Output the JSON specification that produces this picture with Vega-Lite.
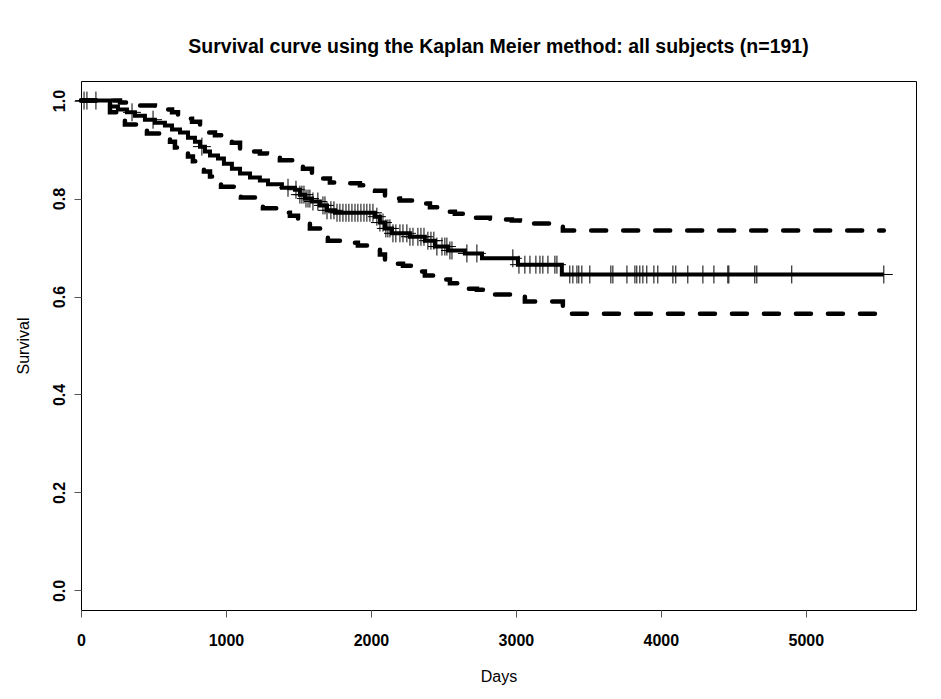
{
  "$schema": "https://vega.github.io/schema/vega-lite/v6.json",
  "width": 835,
  "height": 529,
  "autosize": {"type": "none"},
  "padding": {"left": 81, "top": 81, "right": 25, "bottom": 89},
  "background": "white",
  "config": {
    "view": {"stroke": "black", "strokeWidth": 1},
    "font": "Liberation Sans",
    "axis": {"grid": false, "domain": false, "tickColor": "#555", "tickSize": 7, "labelColor": "black", "titleColor": "black", "labelFont": "Liberation Sans", "titleFont": "Liberation Sans", "labelFontWeight": "bold", "labelFontSize": 16, "titleFontWeight": "normal", "titleFontSize": 16}
  },
  "title": {"text": "Survival curve using the Kaplan Meier method: all subjects (n=191)", "fontSize": 19.5, "fontWeight": "bold", "font": "Liberation Sans", "color": "black", "anchor": "middle", "offset": 24},
  "datasets": {
    "curves": [
      {"series": "km", "day": 0, "s": 1.0},
      {"series": "km", "day": 200, "s": 0.988},
      {"series": "km", "day": 255, "s": 0.982},
      {"series": "km", "day": 317, "s": 0.976},
      {"series": "km", "day": 372, "s": 0.969},
      {"series": "km", "day": 441, "s": 0.961},
      {"series": "km", "day": 510, "s": 0.955},
      {"series": "km", "day": 579, "s": 0.949},
      {"series": "km", "day": 628, "s": 0.941},
      {"series": "km", "day": 683, "s": 0.935},
      {"series": "km", "day": 738, "s": 0.924},
      {"series": "km", "day": 786, "s": 0.916},
      {"series": "km", "day": 821, "s": 0.906},
      {"series": "km", "day": 855, "s": 0.896},
      {"series": "km", "day": 890, "s": 0.888},
      {"series": "km", "day": 945, "s": 0.882},
      {"series": "km", "day": 986, "s": 0.871},
      {"series": "km", "day": 1041, "s": 0.861},
      {"series": "km", "day": 1097, "s": 0.851},
      {"series": "km", "day": 1166, "s": 0.843},
      {"series": "km", "day": 1234, "s": 0.837},
      {"series": "km", "day": 1290, "s": 0.829},
      {"series": "km", "day": 1386, "s": 0.822},
      {"series": "km", "day": 1476, "s": 0.818},
      {"series": "km", "day": 1510, "s": 0.808},
      {"series": "km", "day": 1545, "s": 0.8},
      {"series": "km", "day": 1593, "s": 0.794},
      {"series": "km", "day": 1648, "s": 0.786},
      {"series": "km", "day": 1697, "s": 0.776},
      {"series": "km", "day": 1752, "s": 0.771},
      {"series": "km", "day": 2028, "s": 0.763},
      {"series": "km", "day": 2062, "s": 0.751},
      {"series": "km", "day": 2097, "s": 0.739},
      {"series": "km", "day": 2145, "s": 0.729},
      {"series": "km", "day": 2269, "s": 0.722},
      {"series": "km", "day": 2372, "s": 0.714},
      {"series": "km", "day": 2441, "s": 0.702},
      {"series": "km", "day": 2531, "s": 0.694},
      {"series": "km", "day": 2648, "s": 0.688},
      {"series": "km", "day": 2766, "s": 0.678},
      {"series": "km", "day": 3014, "s": 0.665},
      {"series": "km", "day": 3317, "s": 0.645},
      {"series": "km", "day": 5538, "s": 0.645},
      {"series": "upper", "day": 0, "s": 1.0},
      {"series": "upper", "day": 269, "s": 0.996},
      {"series": "upper", "day": 338, "s": 0.994},
      {"series": "upper", "day": 407, "s": 0.99},
      {"series": "upper", "day": 510, "s": 0.986},
      {"series": "upper", "day": 579, "s": 0.982},
      {"series": "upper", "day": 628, "s": 0.976},
      {"series": "upper", "day": 669, "s": 0.967},
      {"series": "upper", "day": 717, "s": 0.963},
      {"series": "upper", "day": 766, "s": 0.957},
      {"series": "upper", "day": 821, "s": 0.949},
      {"series": "upper", "day": 869, "s": 0.935},
      {"series": "upper", "day": 924, "s": 0.929},
      {"series": "upper", "day": 993, "s": 0.927},
      {"series": "upper", "day": 1041, "s": 0.914},
      {"series": "upper", "day": 1097, "s": 0.902},
      {"series": "upper", "day": 1166, "s": 0.896},
      {"series": "upper", "day": 1234, "s": 0.892},
      {"series": "upper", "day": 1283, "s": 0.884},
      {"series": "upper", "day": 1372, "s": 0.878},
      {"series": "upper", "day": 1476, "s": 0.873},
      {"series": "upper", "day": 1531, "s": 0.861},
      {"series": "upper", "day": 1593, "s": 0.851},
      {"series": "upper", "day": 1662, "s": 0.841},
      {"series": "upper", "day": 1717, "s": 0.833},
      {"series": "upper", "day": 1821, "s": 0.831},
      {"series": "upper", "day": 1924, "s": 0.827},
      {"series": "upper", "day": 2028, "s": 0.816},
      {"series": "upper", "day": 2097, "s": 0.8},
      {"series": "upper", "day": 2200, "s": 0.796},
      {"series": "upper", "day": 2338, "s": 0.79},
      {"series": "upper", "day": 2407, "s": 0.782},
      {"series": "upper", "day": 2490, "s": 0.773},
      {"series": "upper", "day": 2579, "s": 0.769},
      {"series": "upper", "day": 2717, "s": 0.761},
      {"series": "upper", "day": 2821, "s": 0.757},
      {"series": "upper", "day": 2972, "s": 0.755},
      {"series": "upper", "day": 3028, "s": 0.749},
      {"series": "upper", "day": 3324, "s": 0.735},
      {"series": "upper", "day": 5538, "s": 0.735},
      {"series": "lower", "day": 0, "s": 1.0},
      {"series": "lower", "day": 200, "s": 0.976},
      {"series": "lower", "day": 255, "s": 0.963},
      {"series": "lower", "day": 303, "s": 0.951},
      {"series": "lower", "day": 407, "s": 0.945},
      {"series": "lower", "day": 455, "s": 0.933},
      {"series": "lower", "day": 545, "s": 0.924},
      {"series": "lower", "day": 614, "s": 0.916},
      {"series": "lower", "day": 648, "s": 0.904},
      {"series": "lower", "day": 697, "s": 0.896},
      {"series": "lower", "day": 738, "s": 0.886},
      {"series": "lower", "day": 772, "s": 0.876},
      {"series": "lower", "day": 807, "s": 0.869},
      {"series": "lower", "day": 848, "s": 0.855},
      {"series": "lower", "day": 890, "s": 0.845},
      {"series": "lower", "day": 924, "s": 0.839},
      {"series": "lower", "day": 966, "s": 0.824},
      {"series": "lower", "day": 1055, "s": 0.818},
      {"series": "lower", "day": 1103, "s": 0.802},
      {"series": "lower", "day": 1221, "s": 0.796},
      {"series": "lower", "day": 1255, "s": 0.78},
      {"series": "lower", "day": 1359, "s": 0.771},
      {"series": "lower", "day": 1441, "s": 0.765},
      {"series": "lower", "day": 1497, "s": 0.757},
      {"series": "lower", "day": 1545, "s": 0.749},
      {"series": "lower", "day": 1579, "s": 0.739},
      {"series": "lower", "day": 1662, "s": 0.731},
      {"series": "lower", "day": 1703, "s": 0.714},
      {"series": "lower", "day": 1855, "s": 0.71},
      {"series": "lower", "day": 1910, "s": 0.704},
      {"series": "lower", "day": 2028, "s": 0.702},
      {"series": "lower", "day": 2062, "s": 0.686},
      {"series": "lower", "day": 2097, "s": 0.667},
      {"series": "lower", "day": 2221, "s": 0.663},
      {"series": "lower", "day": 2303, "s": 0.651},
      {"series": "lower", "day": 2372, "s": 0.643},
      {"series": "lower", "day": 2462, "s": 0.635},
      {"series": "lower", "day": 2545, "s": 0.627},
      {"series": "lower", "day": 2628, "s": 0.616},
      {"series": "lower", "day": 2731, "s": 0.614},
      {"series": "lower", "day": 2807, "s": 0.604},
      {"series": "lower", "day": 3028, "s": 0.602},
      {"series": "lower", "day": 3062, "s": 0.59},
      {"series": "lower", "day": 3324, "s": 0.565},
      {"series": "lower", "day": 5538, "s": 0.565}
    ],
    "censored": [
      {"day": 21, "s": 1.0}, {"day": 41, "s": 1.0}, {"day": 103, "s": 1.0},
      {"day": 352, "s": 0.976}, {"day": 497, "s": 0.961}, {"day": 834, "s": 0.906},
      {"day": 1428, "s": 0.822}, {"day": 1483, "s": 0.818}, {"day": 1510, "s": 0.808}, {"day": 1524, "s": 0.808}, {"day": 1538, "s": 0.808},
      {"day": 1552, "s": 0.8}, {"day": 1566, "s": 0.8}, {"day": 1579, "s": 0.8}, {"day": 1600, "s": 0.794}, {"day": 1634, "s": 0.794},
      {"day": 1669, "s": 0.786}, {"day": 1683, "s": 0.786}, {"day": 1697, "s": 0.776}, {"day": 1724, "s": 0.776}, {"day": 1745, "s": 0.776},
      {"day": 1766, "s": 0.771}, {"day": 1786, "s": 0.771}, {"day": 1807, "s": 0.771}, {"day": 1828, "s": 0.771}, {"day": 1848, "s": 0.771},
      {"day": 1869, "s": 0.771}, {"day": 1890, "s": 0.771}, {"day": 1910, "s": 0.771}, {"day": 1931, "s": 0.771}, {"day": 1952, "s": 0.771},
      {"day": 1972, "s": 0.771}, {"day": 1993, "s": 0.771}, {"day": 2014, "s": 0.771}, {"day": 2041, "s": 0.763}, {"day": 2062, "s": 0.751},
      {"day": 2083, "s": 0.751}, {"day": 2103, "s": 0.739}, {"day": 2117, "s": 0.739}, {"day": 2131, "s": 0.739}, {"day": 2152, "s": 0.729},
      {"day": 2172, "s": 0.729}, {"day": 2200, "s": 0.729}, {"day": 2221, "s": 0.729}, {"day": 2248, "s": 0.729}, {"day": 2269, "s": 0.722},
      {"day": 2290, "s": 0.722}, {"day": 2324, "s": 0.722}, {"day": 2345, "s": 0.722}, {"day": 2366, "s": 0.722}, {"day": 2393, "s": 0.714},
      {"day": 2414, "s": 0.714}, {"day": 2434, "s": 0.714}, {"day": 2455, "s": 0.702}, {"day": 2490, "s": 0.702}, {"day": 2510, "s": 0.702},
      {"day": 2524, "s": 0.702}, {"day": 2545, "s": 0.694}, {"day": 2559, "s": 0.694}, {"day": 2662, "s": 0.688}, {"day": 2731, "s": 0.688},
      {"day": 2979, "s": 0.678}, {"day": 3021, "s": 0.665}, {"day": 3062, "s": 0.665}, {"day": 3097, "s": 0.665}, {"day": 3138, "s": 0.665},
      {"day": 3166, "s": 0.665}, {"day": 3186, "s": 0.665}, {"day": 3221, "s": 0.665}, {"day": 3269, "s": 0.665}, {"day": 3283, "s": 0.665},
      {"day": 3372, "s": 0.645}, {"day": 3393, "s": 0.645}, {"day": 3421, "s": 0.645}, {"day": 3434, "s": 0.645}, {"day": 3455, "s": 0.645},
      {"day": 3510, "s": 0.645}, {"day": 3655, "s": 0.645}, {"day": 3669, "s": 0.645}, {"day": 3766, "s": 0.645}, {"day": 3821, "s": 0.645},
      {"day": 3834, "s": 0.645}, {"day": 3855, "s": 0.645}, {"day": 3876, "s": 0.645}, {"day": 3903, "s": 0.645}, {"day": 3952, "s": 0.645},
      {"day": 3979, "s": 0.645}, {"day": 4083, "s": 0.645}, {"day": 4103, "s": 0.645}, {"day": 4186, "s": 0.645}, {"day": 4290, "s": 0.645},
      {"day": 4366, "s": 0.645}, {"day": 4462, "s": 0.645}, {"day": 4469, "s": 0.645}, {"day": 4648, "s": 0.645}, {"day": 4662, "s": 0.645},
      {"day": 4903, "s": 0.645}, {"day": 5538, "s": 0.645}
    ]
  },
  "encoding": {
    "x": {"field": "day", "type": "quantitative", "scale": {"domain": [0, 5760], "nice": false, "zero": false},
      "axis": {"title": "Days", "values": [0, 1000, 2000, 3000, 4000, 5000], "format": "d", "labelPadding": 15, "titlePadding": 20, "labelFlush": false}},
    "y": {"field": "s", "type": "quantitative", "scale": {"domain": [-0.04, 1.04], "nice": false, "zero": false},
      "axis": {"title": "Survival", "values": [0, 0.2, 0.4, 0.6, 0.8, 1.0], "format": ".1f", "labelAngle": 270, "labelPadding": 7, "titlePadding": 20, "labelFlush": false}}
  },
  "layer": [
    {
      "data": {"name": "curves"},
      "transform": [{"filter": "datum.series !== 'km'"}],
      "mark": {"type": "line", "interpolate": "step-after", "color": "black", "strokeWidth": 4.5, "strokeDash": [15, 17], "strokeCap": "round"},
      "encoding": {"detail": {"field": "series", "type": "nominal"}}
    },
    {
      "data": {"name": "curves"},
      "transform": [{"filter": "datum.series === 'km'"}],
      "mark": {"type": "line", "interpolate": "step-after", "color": "black", "strokeWidth": 4}
    },
    {
      "data": {"name": "censored"},
      "mark": {"type": "point", "shape": "M-1,0H1M0,-1V1", "size": 324, "filled": false, "stroke": "black", "strokeWidth": 1, "opacity": 1}
    }
  ]
}
